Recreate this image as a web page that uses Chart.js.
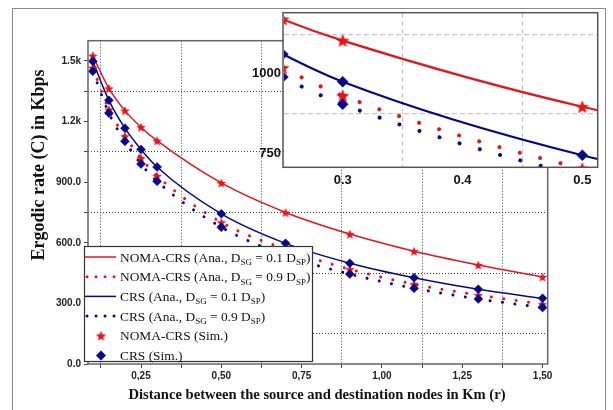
<!DOCTYPE html>
<html>
<head>
<meta charset="utf-8">
<script src="https://cdn.jsdelivr.net/npm/chart.js@4"></script>
<style>
  html, body { margin: 0; padding: 0; background: #fff; overflow: hidden; }
  #wrap { position: relative; width: 613px; height: 410px; }
  #frame { position: absolute; left: 12px; top: 8px; width: 594px; height: 430px; border: 1px solid #8a8a8a; box-sizing: border-box; }
  #main { position: absolute; left: 0; top: 0; }
  #inset { position: absolute; left: 250px; top: 0; }
</style>
</head>
<body>
<div id="wrap">
  <div id="frame"></div>
  <canvas id="main" width="613" height="410"></canvas>
  <canvas id="inset" width="360" height="200"></canvas>
</div>
<script>
/* ── Ergodic rate vs. distance: NOMA-CRS vs CRS ── */

const RED = "#e3161b";
const BLUE = "#07078c";

// ── Data (Kbps) ──
const distKm = [0.1, 0.15, 0.2, 0.25, 0.3, 0.5, 0.7, 0.9, 1.1, 1.3, 1.5];
const nomaNear = [1526, 1364, 1254, 1172, 1105, 896, 750, 643, 558, 490, 431];
const nomaFar = [1466, 1259, 1127, 1019, 931, 701, 568, 469, 395, 341, 296];
const crsNear = [1498, 1305, 1167, 1062, 975, 743, 597, 499, 427, 370, 325];
const crsFar = [1449, 1242, 1102, 990, 904, 677, 537, 445, 375, 322, 279];

// ── Ticks ──
const xMajor = [0.25, 0.5, 0.75, 1.0, 1.25, 1.5];
const xMinor = [0.125, 0.375, 0.625, 0.875, 1.125, 1.375];
const yMajor = [0, 300, 600, 900, 1200, 1500];
const yMinor = [150, 450, 750, 1050, 1350];
const insetXMajor = [0.3, 0.4, 0.5];
const insetXMinor = [0.35, 0.45];
const insetYMajor = [750, 1000];
const insetYMinor = [875, 1125];

// ── Legend rows: [sample, colour, text parts ([text, isSubscript])] ──
const legendRows = [
  ["solid", RED, [["NOMA-CRS (Ana., D", 0], ["SG", 1], [" = 0.1 D", 0], ["SP", 1], [")", 0]]],
  ["dot", RED, [["NOMA-CRS (Ana., D", 0], ["SG", 1], [" = 0.9 D", 0], ["SP", 1], [")", 0]]],
  ["solid", BLUE, [["CRS (Ana., D", 0], ["SG", 1], [" = 0.1 D", 0], ["SP", 1], [")", 0]]],
  ["dot", BLUE, [["CRS (Ana., D", 0], ["SG", 1], [" = 0.9 D", 0], ["SP", 1], [")", 0]]],
  ["star", RED, [["NOMA-CRS (Sim.)", 0]]],
  ["diamond", BLUE, [["CRS (Sim.)", 0]]],
];

const SERIF = '"Liberation Serif", "Times New Roman", serif';
const SANS = '"Liberation Sans", Arial, sans-serif';

// ── Filled five-point star used as point style ──
function makeStar(size, color) {
  const c = document.createElement("canvas");
  c.width = c.height = size;
  const g = c.getContext("2d");
  const r = size / 2, ri = r * 0.45;
  g.beginPath();
  for (let i = 0; i < 10; i++) {
    const a = -Math.PI / 2 + (i * Math.PI) / 5;
    const rr = i % 2 ? ri : r;
    g.lineTo(r + rr * Math.cos(a), r + 0.6 + rr * Math.sin(a));
  }
  g.closePath();
  g.fillStyle = color;
  g.fill();
  return c;
}

const starMain = makeStar(10, RED);
const starLegend = makeStar(11, RED);
const starInset = makeStar(14, RED);

const pts = (ys) => distKm.map((x, i) => ({ x, y: ys[i] }));
const sorted = (a, b) => [...a, ...b].sort((p, q) => p - q);

function buildDatasets(s) {
  const line = (ys, color, dotted) => ({
    data: pts(ys),
    borderColor: color,
    borderWidth: dotted ? s.dot : s.solid,
    borderDash: dotted ? [0.01, s.gap] : [],
    borderCapStyle: dotted ? "round" : "butt",
    pointRadius: 0,
    cubicInterpolationMode: "monotone",
    fill: false,
  });
  return [
    {
      label: "CRS (Sim.)",
      data: [...pts(crsNear), ...pts(crsFar)],
      showLine: false,
      pointStyle: "rectRot",
      pointRadius: s.diamond,
      pointBackgroundColor: BLUE,
      pointBorderColor: BLUE,
      pointBorderWidth: 0.5,
    },
    {
      label: "NOMA-CRS (Sim.)",
      data: [...pts(nomaNear), ...pts(nomaFar)],
      showLine: false,
      pointStyle: s.star,
      pointRadius: 5,
    },
    line(nomaNear, RED, false),
    line(nomaFar, RED, true),
    line(crsNear, BLUE, false),
    line(crsFar, BLUE, true),
  ];
}

// ── Plugins ──
const frameMain = {
  id: "frameMain",
  afterDraw(chart) {
    const { ctx, chartArea: a } = chart;
    ctx.save();
    ctx.strokeStyle = "#666";
    ctx.lineWidth = 1.5;
    ctx.strokeRect(a.left, a.top, a.right - a.left, a.bottom - a.top);
    ctx.restore();
  },
};

const legendBox = {
  id: "legendBox",
  afterDraw(chart) {
    const ctx = chart.ctx;
    const L = 84, T = 246, W = 229, H = 116;
    ctx.save();
    ctx.fillStyle = "#fff";
    ctx.fillRect(L, T, W, H);
    ctx.strokeStyle = "#333";
    ctx.lineWidth = 1.2;
    ctx.strokeRect(L + 0.5, T + 0.5, W - 1, H - 1);

    legendRows.forEach(([kind, color, parts], i) => {
      const y = T + 11 + i * 19.7;
      ctx.strokeStyle = color;
      ctx.fillStyle = color;
      if (kind === "solid" || kind === "dot") {
        ctx.beginPath();
        ctx.lineWidth = kind === "dot" ? 3 : 1.5;
        ctx.lineCap = kind === "dot" ? "round" : "butt";
        ctx.setLineDash(kind === "dot" ? [0.01, 9] : []);
        ctx.moveTo(kind === "dot" ? 87 : 85, y);
        ctx.lineTo(116, y);
        ctx.stroke();
        ctx.setLineDash([]);
      } else if (kind === "star") {
        ctx.drawImage(starLegend, 101 - 5.5, y - 5.5);
      } else {
        ctx.beginPath();
        ctx.moveTo(101, y - 5);
        ctx.lineTo(106, y);
        ctx.lineTo(101, y + 5);
        ctx.lineTo(96, y);
        ctx.closePath();
        ctx.fill();
      }

      let x = 120;
      ctx.fillStyle = "#111";
      ctx.textBaseline = "alphabetic";
      ctx.textAlign = "left";
      parts.forEach(([t, sub]) => {
        ctx.font = sub ? `9px ${SERIF}` : `13.4px ${SERIF}`;
        ctx.fillText(t, x, y + 4.5 + (sub ? 3.5 : 0));
        x += ctx.measureText(t).width;
      });
    });
    ctx.restore();
  },
};

const axisTitles = {
  id: "axisTitles",
  afterDraw(chart) {
    const ctx = chart.ctx;
    ctx.save();
    ctx.fillStyle = "#111";
    ctx.textAlign = "center";
    ctx.textBaseline = "middle";
    ctx.font = `bold 14.6px ${SERIF}`;
    ctx.fillText("Distance between the source and destination nodes in Km (r)", 317, 395);
    ctx.translate(39, 165);
    ctx.rotate(-Math.PI / 2);
    ctx.font = `bold 18px ${SERIF}`;
    ctx.fillText("Ergodic rate (C) in Kbps", 0, 0);
    ctx.restore();
  },
};

const insetBg = {
  id: "insetBg",
  beforeDraw(chart) {
    const { ctx, chartArea: a } = chart;
    ctx.save();
    ctx.fillStyle = "#fff";
    ctx.fillRect(a.left, a.top, a.right - a.left, a.bottom - a.top);
    ctx.restore();
  },
  afterDraw(chart) {
    const { ctx, chartArea: a } = chart;
    ctx.save();
    ctx.strokeStyle = "#555";
    ctx.lineWidth = 1.5;
    ctx.strokeRect(a.left - 1, a.top, a.right - a.left + 1, a.bottom - a.top);
    ctx.restore();
  },
};

// ── Main chart ──
const isMajor = (list, v) => list.some((m) => Math.abs(m - v) < 1e-9);

new Chart(document.getElementById("main"), {
  type: "line",
  data: { datasets: buildDatasets({ solid: 1.5, dot: 3, gap: 12.5, star: starMain, diamond: 4.5 }) },
  options: {
    responsive: false,
    devicePixelRatio: 1,
    animation: false,
    events: [],
    layout: { padding: { left: 0, top: 40.7, right: 65.3, bottom: 0 } },
    plugins: { legend: { display: false }, tooltip: { enabled: false } },
    scales: {
      x: {
        type: "linear",
        min: 0.085,
        max: 1.516,
        afterBuildTicks: (s) => { s.ticks = sorted(xMajor, xMinor).map((value) => ({ value })); },
        afterFit: (s) => { s.height = 46; },
        border: { display: false, dash: [1, 2] },
        grid: {
          color: (c) => (c.tick && isMajor(xMajor, c.tick.value) ? "rgba(0,0,0,0)" : "#444"),
          tickColor: "#444",
          tickLength: 4,
          tickBorderDash: [],
        },
        ticks: {
          autoSkip: false,
          maxRotation: 0,
          padding: 2,
          color: "#222",
          font: { family: SANS, size: 10, weight: "bold" },
          callback: (v) => (isMajor(xMajor, v) ? v.toFixed(2).replace(".", ",") : ""),
        },
      },
      y: {
        min: 0,
        max: 1600,
        afterBuildTicks: (s) => { s.ticks = sorted(yMajor, yMinor).map((value) => ({ value })); },
        afterFit: (s) => { s.width = 88; },
        border: { display: false, dash: [1, 2] },
        grid: {
          color: (c) => (c.tick && isMajor(yMajor, c.tick.value) ? "rgba(0,0,0,0)" : "#444"),
          tickColor: "#444",
          tickLength: 4,
          tickBorderDash: [],
        },
        ticks: {
          autoSkip: false,
          padding: 3,
          color: "#222",
          font: { family: SANS, size: 10, weight: "bold" },
          callback: (v) => {
            if (!isMajor(yMajor, v)) return "";
            return v >= 1200 ? (v / 1000).toFixed(1) + "k" : v.toFixed(1);
          },
        },
      },
    },
  },
  plugins: [frameMain, legendBox, axisTitles],
});

// ── Zoomed inset (0.25 – 0.5 km) ──
new Chart(document.getElementById("inset"), {
  type: "line",
  data: { datasets: buildDatasets({ solid: 2.2, dot: 4, gap: 21, star: starInset, diamond: 5.5 }) },
  options: {
    responsive: false,
    devicePixelRatio: 1,
    animation: false,
    events: [],
    layout: { padding: { left: 0, top: 12.7, right: 12.3, bottom: 0 } },
    plugins: { legend: { display: false }, tooltip: { enabled: false } },
    scales: {
      x: {
        type: "linear",
        min: 0.251,
        max: 0.5128,
        afterBuildTicks: (s) => { s.ticks = sorted(insetXMajor, insetXMinor).map((value) => ({ value })); },
        afterFit: (s) => { s.height = 32.7; },
        border: { display: false, dash: [5, 3] },
        grid: {
          color: (c) => (c.tick && isMajor(insetXMajor, c.tick.value) ? "rgba(0,0,0,0)" : "#c8c8c8"),
          lineWidth: 1.2,
          drawTicks: false,
        },
        ticks: {
          autoSkip: false,
          maxRotation: 0,
          padding: 5,
          color: "#111",
          font: { family: SANS, size: 13, weight: "bold" },
          callback: (v) => (isMajor(insetXMajor, v) ? v.toFixed(1) : ""),
        },
      },
      y: {
        min: 705,
        max: 1193,
        afterBuildTicks: (s) => { s.ticks = sorted(insetYMajor, insetYMinor).map((value) => ({ value })); },
        afterFit: (s) => { s.width = 34; },
        border: { display: false, dash: [5, 3] },
        grid: {
          color: (c) => (c.tick && isMajor(insetYMajor, c.tick.value) ? "rgba(0,0,0,0)" : "#c8c8c8"),
          lineWidth: 1.2,
          drawTicks: false,
        },
        ticks: {
          autoSkip: false,
          padding: 3,
          color: "#111",
          font: { family: SANS, size: 13, weight: "bold" },
          callback: (v) => (isMajor(insetYMajor, v) ? String(v) : ""),
        },
      },
    },
  },
  plugins: [insetBg],
});
</script>
</body>
</html>
